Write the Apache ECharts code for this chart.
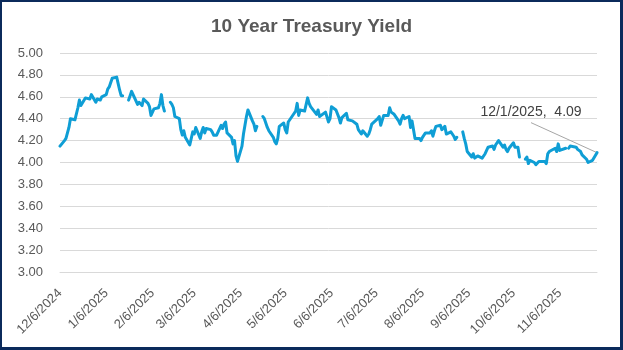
<!DOCTYPE html>
<html><head><meta charset="utf-8">
<script src="https://cdn.jsdelivr.net/npm/echarts@6/dist/echarts.min.js"></script>
<style>
html,body{margin:0;padding:0;background:#fff}
#c{position:absolute;left:0;top:0;width:623px;height:350px}
#f{position:absolute;left:0;top:0;width:623px;height:350px;box-sizing:border-box;border:3px solid #0B2A5B;border-top-width:2px;border-left-width:2px;pointer-events:none}
</style>
</head><body><div id="c"></div><div id="f"></div>
<script>
const chartTitle = '10 Year Treasury Yield';
const tickLabels = ['12/6/2024','1/6/2025','2/6/2025','3/6/2025','4/6/2025','5/6/2025','6/6/2025','7/6/2025','8/6/2025','9/6/2025','10/6/2025','11/6/2025'];
const yTicks = [3.00,3.20,3.40,3.60,3.80,4.00,4.20,4.40,4.60,4.80,5.00];
const xStart = '12/6/2024';
const xEnd = '12/1/2025';

const dates = [
'12/6/2024','12/9/2024','12/10/2024','12/11/2024','12/12/2024','12/13/2024','12/16/2024','12/17/2024','12/18/2024','12/19/2024','12/20/2024','12/23/2024','12/24/2024','12/26/2024','12/27/2024','12/30/2024','12/31/2024',
'1/2/2025','1/3/2025','1/6/2025','1/7/2025','1/8/2025','1/10/2025','1/13/2025','1/14/2025','1/15/2025','1/16/2025','1/17/2025','1/20/2025','1/21/2025','1/22/2025','1/23/2025','1/24/2025','1/27/2025','1/28/2025','1/29/2025','1/30/2025','1/31/2025',
'2/3/2025','2/4/2025','2/5/2025','2/6/2025','2/7/2025','2/10/2025','2/11/2025','2/12/2025','2/13/2025','2/14/2025','2/17/2025','2/18/2025','2/19/2025','2/20/2025','2/21/2025','2/24/2025','2/25/2025','2/26/2025','2/27/2025','2/28/2025',
'3/3/2025','3/4/2025','3/5/2025','3/6/2025','3/7/2025','3/10/2025','3/11/2025','3/12/2025','3/13/2025','3/14/2025','3/17/2025','3/18/2025','3/19/2025','3/20/2025','3/21/2025','3/24/2025','3/25/2025','3/26/2025','3/27/2025','3/28/2025','3/31/2025',
'4/1/2025','4/2/2025','4/3/2025','4/4/2025','4/7/2025','4/8/2025','4/9/2025','4/10/2025','4/11/2025','4/14/2025','4/15/2025','4/16/2025','4/17/2025','4/18/2025','4/21/2025','4/22/2025','4/23/2025','4/24/2025','4/25/2025','4/28/2025','4/29/2025','4/30/2025',
'5/1/2025','5/2/2025','5/5/2025','5/6/2025','5/7/2025','5/8/2025','5/9/2025','5/12/2025','5/13/2025','5/14/2025','5/15/2025','5/16/2025','5/19/2025','5/20/2025','5/21/2025','5/22/2025','5/23/2025','5/27/2025','5/28/2025','5/29/2025','5/30/2025',
'6/2/2025','6/3/2025','6/4/2025','6/5/2025','6/6/2025','6/9/2025','6/10/2025','6/11/2025','6/12/2025','6/13/2025','6/16/2025','6/17/2025','6/18/2025','6/20/2025','6/23/2025','6/24/2025','6/25/2025','6/26/2025','6/27/2025','6/30/2025',
'7/1/2025','7/2/2025','7/3/2025','7/7/2025','7/8/2025','7/9/2025','7/10/2025','7/11/2025','7/14/2025','7/15/2025','7/16/2025','7/17/2025','7/18/2025','7/21/2025','7/22/2025','7/23/2025','7/24/2025','7/25/2025','7/28/2025','7/29/2025','7/30/2025','7/31/2025',
'8/1/2025','8/4/2025','8/5/2025','8/6/2025','8/7/2025','8/8/2025','8/11/2025','8/12/2025','8/13/2025','8/14/2025','8/15/2025','8/18/2025','8/19/2025','8/20/2025','8/21/2025','8/22/2025','8/25/2025','8/26/2025','8/27/2025','8/28/2025','8/29/2025','9/1/2025',
'9/2/2025','9/3/2025','9/4/2025','9/5/2025','9/8/2025','9/9/2025','9/10/2025','9/11/2025','9/12/2025','9/15/2025','9/16/2025','9/17/2025','9/18/2025','9/19/2025','9/22/2025','9/23/2025','9/24/2025','9/25/2025','9/26/2025','9/29/2025','9/30/2025',
'10/1/2025','10/2/2025','10/3/2025','10/6/2025','10/7/2025','10/8/2025','10/9/2025','10/10/2025','10/13/2025','10/14/2025','10/15/2025','10/16/2025','10/17/2025','10/20/2025','10/21/2025','10/22/2025','10/23/2025','10/24/2025','10/27/2025','10/28/2025','10/29/2025','10/30/2025','10/31/2025',
'11/3/2025','11/4/2025','11/5/2025','11/6/2025','11/7/2025','11/10/2025','11/11/2025','11/12/2025','11/13/2025','11/14/2025','11/17/2025','11/18/2025','11/19/2025','11/20/2025','11/21/2025','11/24/2025','11/25/2025','11/26/2025','11/28/2025',
'12/1/2025'
];

const yields = [
4.15,4.20,4.22,4.27,4.32,4.40,4.39,4.40,4.50,4.57,4.52,4.59,4.59,4.58,4.62,4.55,4.58,
4.57,4.60,4.62,4.67,4.69,4.77,4.78,4.79,4.66,4.61,4.61,null,4.57,4.61,4.65,4.62,4.53,4.55,4.55,4.52,4.58,
4.54,4.51,4.43,4.44,4.49,4.50,4.54,4.62,4.52,4.47,null,4.55,4.53,4.50,4.42,4.40,4.30,4.25,4.29,4.23,
4.16,4.22,4.28,4.26,4.32,4.22,4.28,4.32,4.27,4.31,4.30,4.28,4.25,4.24,4.25,4.34,4.31,4.35,4.37,4.27,4.23,
4.17,4.20,4.06,4.01,4.15,4.26,4.34,4.42,4.48,4.38,4.35,4.29,4.33,null,4.42,4.40,4.39,4.32,4.29,4.23,4.19,4.17,
4.22,4.33,4.36,4.30,4.27,4.37,4.37,4.45,4.47,4.54,4.43,4.48,4.47,4.48,4.59,4.54,4.51,4.44,4.48,4.42,4.41,
4.46,4.46,4.37,4.40,4.51,4.48,4.47,4.41,4.36,4.41,4.45,4.39,4.39,4.38,4.35,4.30,4.29,4.26,4.29,4.24,
4.26,4.30,4.35,4.40,4.42,4.34,4.35,4.43,4.43,4.50,4.46,4.47,4.44,4.38,4.35,4.40,4.43,4.40,4.42,4.32,4.38,4.37,
4.22,4.22,4.20,4.23,4.24,4.27,4.27,4.29,4.24,4.29,4.33,4.34,4.30,4.29,4.33,4.26,4.28,4.26,4.24,4.21,4.23,null,
4.28,4.22,4.17,4.10,4.05,4.08,4.04,4.03,4.06,4.04,4.04,4.08,4.11,4.14,4.15,4.12,4.16,4.17,4.20,4.14,4.16,
4.12,4.10,4.13,4.18,4.14,4.13,4.14,4.05,null,4.03,4.05,3.99,4.02,4.00,3.98,3.97,4.01,4.02,4.01,3.99,4.08,4.10,4.11,
4.13,4.10,4.17,4.11,4.11,4.13,null,4.13,4.15,4.14,4.14,4.12,4.13,4.10,4.07,4.03,4.00,4.00,4.02,
4.09
];

function toTs(s){ const p = s.split('/').map(Number); return new Date(p[2], p[0]-1, p[1]).getTime(); }
function fmt(ts){ const d = new Date(ts); return (d.getMonth()+1) + '/' + d.getDate() + '/' + d.getFullYear(); }

const FONT = '"Liberation Sans", Arial, sans-serif';
const lastIdx = dates.length - 1;
const LBL_DX = -66, LBL_DY = -33;
const seriesData = dates.map(function(d, i){
  const v = yields[i] == null ? '-' : yields[i];
  const item = { value: [toTs(d), v] };
  if (i === lastIdx) {
    item.label = {
      show: true, position: 'top', distance: 0,
      formatter: function(p){ return fmt(p.value[0]) + ',  ' + p.value[1].toFixed(2); },
      fontFamily: FONT, fontSize: 14, color: '#404040'
    };
  }
  return item;
});

const chart = echarts.init(document.getElementById('c'), null, {renderer: 'canvas'});
chart.setOption({
  animation: false,
  backgroundColor: '#ffffff',
  title: {
    text: chartTitle, left: 'center', top: 12,
    textStyle: { fontFamily: FONT, fontSize: 19, fontWeight: 'bold', color: '#595959' }
  },
  grid: { left: 60, right: 26, top: 53, bottom: 78 },
  xAxis: {
    type: 'value',
    min: toTs(xStart), max: toTs(xEnd),
    splitLine: { show: false },
    axisLine: { show: true, onZero: false, lineStyle: { color: '#d9d9d9', width: 1 } },
    axisTick: { show: false },
    axisLabel: {
      customValues: tickLabels.map(toTs),
      formatter: function(v){ return fmt(v); },
      rotate: 45, margin: 19, hideOverlap: false,
      fontFamily: FONT, fontSize: 13, color: '#595959'
    }
  },
  yAxis: {
    type: 'value',
    min: yTicks[0], max: yTicks[yTicks.length-1], interval: 0.2,
    axisLine: { show: false }, axisTick: { show: false },
    splitLine: { lineStyle: { color: '#d9d9d9', width: 1 } },
    axisLabel: {
      formatter: function(v){ return v.toFixed(2); },
      margin: 17, fontFamily: FONT, fontSize: 13, color: '#595959'
    }
  },
  series: [{
    type: 'line',
    data: seriesData,
    showSymbol: true,
    showAllSymbol: true,
    symbol: 'circle',
    symbolSize: 1,
    connectNulls: false,
    lineStyle: { color: '#0F9ED5', width: 3, cap: 'round', join: 'round' },
    itemStyle: { color: 'rgba(15,158,213,0)', borderWidth: 0 },
    label: { show: false },
    labelLine: { show: false },
    labelLayout: function(p){ if (p.dataIndex === lastIdx) return { dx: LBL_DX, dy: LBL_DY }; }
  }]
});

// leader line from the annotation label down to the last data point
const endPt = chart.convertToPixel({ seriesIndex: 0 }, [toTs(dates[lastIdx]), yields[lastIdx]]);
chart.setOption({
  graphic: [{
    type: 'line', silent: true, z: 1,
    shape: { x1: endPt[0] + LBL_DX, y1: endPt[1] + LBL_DY + 3, x2: endPt[0], y2: endPt[1] },
    style: { stroke: '#a6a6a6', lineWidth: 1 }
  }]
});
</script>
</body></html>
